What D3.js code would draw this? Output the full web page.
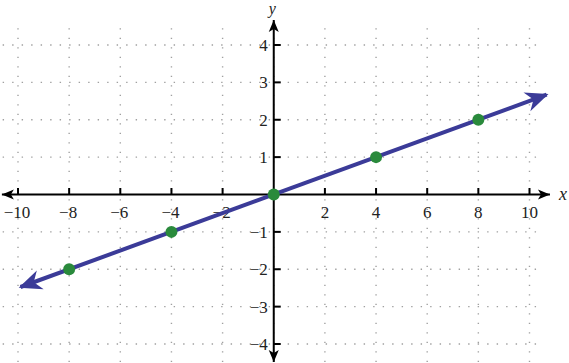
<!DOCTYPE html>
<html>
<head>
<meta charset="utf-8">
<script src="https://cdn.jsdelivr.net/npm/d3@7"></script>
<style>
  body { margin: 0; background: #fff; }
  svg { display: block; }
</style>
</head>
<body>
<svg id="chart" width="569" height="363"></svg>
<script>
// tick labels and grid
const xTicks = [-10, -8, -6, -4, -2, 2, 4, 6, 8, 10]
const yTicks = [-4, -3, -2, -1, 1, 2, 3, 4]
const xGrid = [-10, -8, -6, -4, -2, 0, 2, 4, 6, 8, 10]
const yGrid = [-4, -3, -2, -1, 1, 2, 3, 4]

// plotted points and the line through them
const pointX = [-8, -4, 0, 4, 8]
const pointY = [-2, -1, 0, 1, 2]
const lineX = [-9.9, 10.67]
const lineY = [-2.475, 2.67]

// extents in data units
const xAxisEnds = [-10.63, 10.8]
const yAxisEnds = [-4.48, 4.67]
const hGridEnds = [-10.6, 10.5]
const vGridEnds = [-4.6, 4.45]

const SERIF = "'Liberation Serif', 'Times New Roman', 'DejaVu Serif', serif"

const svg = d3.select("#chart")

const x = d3.scaleLinear().domain([-10, 10]).range([18, 529.5])
const y = d3.scaleLinear().domain([-4, 4]).range([344, 45])

const defs = svg.append("defs")
defs.append("marker")
    .attr("id", "axisArrow")
    .attr("markerUnits", "userSpaceOnUse")
    .attr("viewBox", "-13 -6 14 12")
    .attr("refX", 0).attr("refY", 0)
    .attr("markerWidth", 14).attr("markerHeight", 12)
    .attr("orient", "auto-start-reverse")
    .append("path")
    .attr("d", "M0,0 L-12,-5 L-9,0 L-12,5 Z")
    .attr("fill", "#000")

defs.append("marker")
    .attr("id", "lineArrow")
    .attr("markerUnits", "userSpaceOnUse")
    .attr("viewBox", "-24 -12 28 24")
    .attr("refX", -2).attr("refY", 0)
    .attr("markerWidth", 28).attr("markerHeight", 24)
    .attr("orient", "auto-start-reverse")
    .append("path")
    .attr("d", "M0,0 L-23,-10 L-16,0 L-23,10 Z")
    .attr("fill", "#3b3b98")

// dotted grid
svg.append("g")
   .selectAll("line")
   .data(yGrid)
   .enter()
   .append("line")
   .attr("x1", x(hGridEnds[0])).attr("x2", x(hGridEnds[1]))
   .attr("y1", d => y(d)).attr("y2", d => y(d))
   .attr("stroke", "#a0a0a0")
   .attr("stroke-width", 1.4)
   .attr("stroke-dasharray", "1.4,8.1")

svg.append("g")
   .selectAll("line")
   .data(xGrid)
   .enter()
   .append("line")
   .attr("x1", d => x(d)).attr("x2", d => x(d))
   .attr("y1", y(vGridEnds[1])).attr("y2", y(vGridEnds[0]))
   .attr("stroke", "#a0a0a0")
   .attr("stroke-width", 1.4)
   .attr("stroke-dasharray", "1.4,8.1")

// axes
svg.append("line")
   .attr("x1", x(xAxisEnds[0])).attr("x2", x(xAxisEnds[1]))
   .attr("y1", y(0)).attr("y2", y(0))
   .attr("stroke", "#000").attr("stroke-width", 2)
   .attr("marker-start", "url(#axisArrow)")
   .attr("marker-end", "url(#axisArrow)")

svg.append("line")
   .attr("x1", x(0)).attr("x2", x(0))
   .attr("y1", y(yAxisEnds[0])).attr("y2", y(yAxisEnds[1]))
   .attr("stroke", "#000").attr("stroke-width", 2)
   .attr("marker-start", "url(#axisArrow)")
   .attr("marker-end", "url(#axisArrow)")

// tick marks
svg.append("g")
   .selectAll("line")
   .data(xTicks)
   .enter()
   .append("line")
   .attr("x1", d => x(d)).attr("x2", d => x(d))
   .attr("y1", y(0) - 6.5).attr("y2", y(0))
   .attr("stroke", "#000").attr("stroke-width", 2)

svg.append("g")
   .selectAll("line")
   .data(yTicks)
   .enter()
   .append("line")
   .attr("x1", x(0)).attr("x2", x(0) + 7)
   .attr("y1", d => y(d)).attr("y2", d => y(d))
   .attr("stroke", "#000").attr("stroke-width", 2)

// tick labels
const fmt = d => d < 0 ? "\u2212" + Math.abs(d) : String(d)

svg.append("g")
   .selectAll("text")
   .data(xTicks)
   .enter()
   .append("text")
   .attr("font-family", SERIF)
   .attr("font-size", 17)
   .attr("fill", "#222")
   .attr("x", d => x(d) - (d < 0 ? 1 : 0))
   .attr("y", y(0) + 23)
   .attr("text-anchor", "middle")
   .text(fmt)

svg.append("g")
   .selectAll("text")
   .data(yTicks)
   .enter()
   .append("text")
   .attr("font-family", SERIF)
   .attr("font-size", 17)
   .attr("fill", "#222")
   .attr("x", x(0) - 6)
   .attr("y", d => y(d))
   .attr("dy", "0.35em")
   .attr("text-anchor", "end")
   .text(fmt)

// axis names
svg.append("text")
   .attr("font-family", SERIF)
   .attr("font-style", "italic")
   .attr("font-size", 18)
   .attr("fill", "#222")
   .attr("x", x(xAxisEnds[1]) + 9)
   .attr("y", y(0) + 5)
   .text("x")

svg.append("text")
   .attr("font-family", SERIF)
   .attr("font-style", "italic")
   .attr("font-size", 16)
   .attr("fill", "#222")
   .attr("x", x(0) - 5)
   .attr("y", 14)
   .text("y")

// the line
svg.append("path")
   .attr("d", d3.line().x(d => x(d[0])).y(d => y(d[1]))(d3.zip(lineX, lineY)))
   .attr("stroke", "#3b3b98")
   .attr("stroke-width", 4)
   .attr("fill", "none")
   .attr("marker-start", "url(#lineArrow)")
   .attr("marker-end", "url(#lineArrow)")

// points
svg.append("g")
   .selectAll("circle")
   .data(d3.zip(pointX, pointY))
   .enter()
   .append("circle")
   .attr("cx", d => x(d[0]))
   .attr("cy", d => y(d[1]))
   .attr("r", 6)
   .attr("fill", "#2a8a3c")
</script>
</body>
</html>
